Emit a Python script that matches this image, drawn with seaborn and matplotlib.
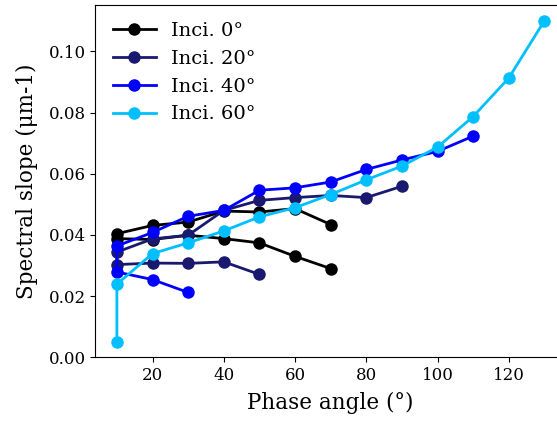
import matplotlib
matplotlib.use("Agg")
import matplotlib.pyplot as plt
import seaborn as sns
import pandas as pd

plt.rcParams['font.family'] = ['DejaVu Serif']

# Each series: lower branch (high phase -> 10) followed by upper branch (10 -> high phase)
inci0_phase = [70, 60, 50, 40, 30, 20, 10, 10, 20, 30, 40, 50, 60, 70]
inci0_slope = [0.0290, 0.0330, 0.0374, 0.0388, 0.0399, 0.0385, 0.0388,
               0.0404, 0.0431, 0.0442, 0.0478, 0.0475, 0.0486, 0.0434]

inci20_phase = [50, 40, 30, 20, 10, 10, 20, 30, 40, 50, 60, 70, 80, 90]
inci20_slope = [0.0271, 0.0312, 0.0307, 0.0308, 0.0303,
                0.0344, 0.0387, 0.0399, 0.0480, 0.0513, 0.0522, 0.0529, 0.0522, 0.0559]

inci40_phase = [30, 20, 10, 10, 20, 30, 40, 50, 60, 70, 80, 90, 100, 110]
inci40_slope = [0.0212, 0.0254, 0.0279,
                0.0364, 0.0408, 0.0461, 0.0480, 0.0546, 0.0554, 0.0573, 0.0614, 0.0645, 0.0673, 0.0723]

inci60_phase = [10, 10, 20, 30, 40, 50, 60, 70, 80, 90, 100, 110, 120, 130]
inci60_slope = [0.0051, 0.0239, 0.0339, 0.0374, 0.0413, 0.0459, 0.0489,
                0.0532, 0.0580, 0.0625, 0.0687, 0.0787, 0.0913, 0.1100]

labels = ["Inci. 0°", "Inci. 20°", "Inci. 40°", "Inci. 60°"]
colors = ["#000000", "#191970", "#0000FF", "#00BFFF"]

frames = []
for lab, ph, sl in zip(labels,
                       [inci0_phase, inci20_phase, inci40_phase, inci60_phase],
                       [inci0_slope, inci20_slope, inci40_slope, inci60_slope]):
    frames.append(pd.DataFrame({"phase": ph, "slope": sl, "series": lab}))
df = pd.concat(frames, ignore_index=True)

fig = plt.figure(figsize=(5.57, 4.23), dpi=100)
ax = fig.add_axes([95.5 / 557, 1 - 357.3 / 423, (565.8 - 95.5) / 557, (357.3 - 4.7) / 423])

sns.lineplot(data=df, x="phase", y="slope", hue="series", hue_order=labels,
             palette=colors, sort=False, estimator=None, marker="o",
             markersize=9, markeredgewidth=0, linewidth=2, ax=ax)

ax.set_xlim(4, 136)
ax.set_ylim(0, 0.11525)
ax.set_xticks([20, 40, 60, 80, 100, 120])
ax.set_yticks([0.0, 0.02, 0.04, 0.06, 0.08, 0.10])
ax.set_yticklabels(["0.00", "0.02", "0.04", "0.06", "0.08", "0.10"])
ax.tick_params(labelsize=12)
ax.set_xlabel("Phase angle (°)", fontsize=15.5, labelpad=5.5)
ax.set_ylabel("Spectral slope (μm-1)", fontsize=15.5, labelpad=8)
leg = ax.legend(loc="upper left", fontsize=14, frameon=False, handlelength=2.2)

fig.savefig("out.png", dpi=100)
